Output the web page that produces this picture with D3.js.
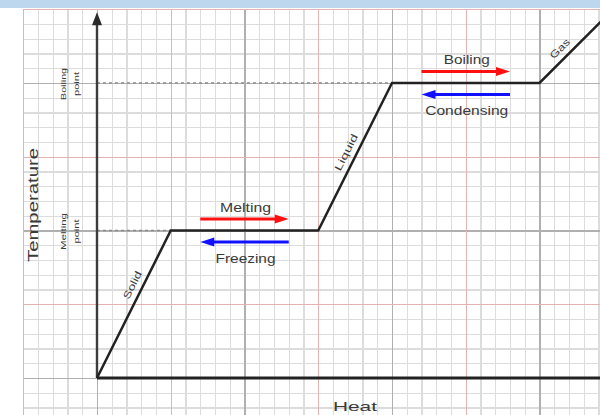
<!DOCTYPE html>
<html>
<head>
<meta charset="utf-8">
<script src="https://cdn.jsdelivr.net/npm/d3@7"></script>
<style>
  html, body { margin: 0; padding: 0; background: #fff; }
  svg { display: block; }
  text { font-family: "Liberation Sans", Arial, sans-serif; fill: #3a3a3a; }
</style>
</head>
<body>
<svg id="chart" width="600" height="415"></svg>
<script>
// Heating curve: heat added (x, grid cells) vs temperature (y, grid cells)
const heat = [0, 5, 15, 20, 30, 35];
const temperature = [0, 10, 10, 20, 20, 25];
const phaseNames = ["Solid", "Liquid", "Gas"];
const forwardNames = ["Melting", "Boiling"];
const reverseNames = ["Freezing", "Condensing"];
const pointNames = [["Melting", "point"], ["Boiling", "point"]];
const plateauStarts = [1, 3]; // indices of the first point of each flat segment
const xTitle = "Heat";
const yTitle = "Temperature";
const gridXValues = d3.range(-5, 36);
const gridYValues = d3.range(-3, 26);

const W = 600, H = 415;
const cell = 14.75;
const x0 = 97, y0 = 378;

const x = d3.scaleLinear().domain([0, 30]).range([x0, x0 + 30 * cell]);
const y = d3.scaleLinear().domain([0, 25]).range([y0, y0 - 25 * cell]);

const svg = d3.select("#chart");
const gridLeft = x(-5), gridTop = y(25);

// ---- graph-paper grid ----
function kind(v) {
  if (v % 10 === 0) return "mid";
  if (((v % 10) + 10) % 10 === 5) return "major";
  return "minor";
}
const gridStyles = {
  minor: { stroke: "#dcdcdc", width: 1.2 },
  mid:   { stroke: "#b0b0b0", width: 1.3 },
  major: { stroke: "#e3b3b3", width: 1.4 }
};
["minor", "mid", "major"].forEach(k => {
  const vx = gridXValues.filter(v => kind(v) === k);
  const vy = gridYValues.filter(v => kind(v) === k);
  const gxv = svg.append("g")
    .attr("transform", `translate(0,${H})`)
    .call(d3.axisBottom(x).tickValues(vx).tickSize(-(H - gridTop)).tickFormat(""));
  const gyv = svg.append("g")
    .attr("transform", `translate(${gridLeft},0)`)
    .call(d3.axisLeft(y).tickValues(vy).tickSize(-(W - gridLeft)).tickFormat(""));
  [gxv, gyv].forEach(g => {
    g.select(".domain").remove();
    g.selectAll("line")
      .attr("stroke", gridStyles[k].stroke)
      .attr("stroke-width", gridStyles[k].width)
      .attr("shape-rendering", "crispEdges");
  });
});

// top band
svg.append("rect").attr("x", 0).attr("y", 0).attr("width", W).attr("height", 8)
  .attr("fill", "#bdd7ee");

// ---- dashed guides from the y axis to each plateau ----
svg.append("g").selectAll("line").data(plateauStarts).join("line")
  .attr("x1", x(0)).attr("x2", i => x(heat[i]))
  .attr("y1", i => y(temperature[i])).attr("y2", i => y(temperature[i]))
  .attr("stroke", "#8a8a8a").attr("stroke-width", 1.6)
  .attr("stroke-dasharray", "3,3");

// ---- axes ----
const arrowTip = y(25) + 3;
svg.append("line")
  .attr("x1", x(0)).attr("x2", x(0))
  .attr("y1", y(0)).attr("y2", arrowTip + 8)
  .attr("stroke", "#3c3c3c").attr("stroke-width", 2.4);
svg.append("path")
  .attr("d", `M${x(0)},${arrowTip} L${x(0) - 5},${arrowTip + 13} L${x(0) + 5},${arrowTip + 13} Z`)
  .attr("fill", "#2a2a2a");
svg.append("line")
  .attr("x1", x(0)).attr("x2", x(35))
  .attr("y1", y(0)).attr("y2", y(0))
  .attr("stroke", "#222").attr("stroke-width", 3);

// ---- heating curve ----
const pts = heat.map((h, i) => [h, temperature[i]]);
svg.append("path")
  .datum(pts)
  .attr("d", d3.line().x(d => x(d[0])).y(d => y(d[1])))
  .attr("fill", "none")
  .attr("stroke", "#222")
  .attr("stroke-width", 2.5)
  .attr("stroke-linejoin", "miter");

// ---- phase labels along the sloped segments ----
const phaseSegs = [[0, 1, 0.6, 30], [2, 3, 0.5, 40], [4, 5, 0.37, 24]];
phaseSegs.forEach(([a, b, t, len], k) => {
  const xa = x(heat[a]), ya = y(temperature[a]);
  const xb = x(heat[b]), yb = y(temperature[b]);
  const dx = xb - xa, dy = yb - ya;
  const L = Math.hypot(dx, dy);
  const ang = Math.atan2(dy, dx) * 180 / Math.PI;
  // normal pointing up-left of the segment
  const nx = dy / L, ny = -dx / L;
  const off = 10;
  const cx = xa + dx * t + nx * off, cy = ya + dy * t + ny * off;
  svg.append("text")
    .attr("transform", `translate(${cx},${cy}) rotate(${ang})`)
    .attr("text-anchor", "middle")
    .attr("dominant-baseline", "central")
    .attr("font-size", 10)
    .attr("textLength", len)
    .attr("lengthAdjust", "spacingAndGlyphs")
    .text(phaseNames[k]);
});

// ---- phase-change arrows ----
function arrow(xs, xe, yy, color) {
  const dir = Math.sign(xe - xs);
  const head = 14, hw = 4.5;
  svg.append("line")
    .attr("x1", xs).attr("x2", xe - dir * head + dir * 1)
    .attr("y1", yy).attr("y2", yy)
    .attr("stroke", color).attr("stroke-width", 3);
  svg.append("path")
    .attr("d", `M${xe},${yy} L${xe - dir * head},${yy - hw} L${xe - dir * head},${yy + hw} Z`)
    .attr("fill", color);
}
const fwdLens = [51, 46], revLens = [60, 83];
plateauStarts.forEach((i, k) => {
  const h1 = heat[i] + 2, h2 = heat[i + 1] - 2;
  const lvl = y(temperature[i]);
  const cx = (x(h1) + x(h2)) / 2 + 1;
  arrow(x(h1), x(h2), lvl - 11.5, "#ff1010");
  arrow(x(h2), x(h1), lvl + 11.5, "#1010ff");
  svg.append("text")
    .attr("x", cx).attr("y", lvl - 19)
    .attr("text-anchor", "middle")
    .attr("font-size", 12)
    .attr("textLength", fwdLens[k]).attr("lengthAdjust", "spacingAndGlyphs")
    .text(forwardNames[k]);
  svg.append("text")
    .attr("x", cx).attr("y", lvl + 32)
    .attr("text-anchor", "middle")
    .attr("font-size", 12)
    .attr("textLength", revLens[k]).attr("lengthAdjust", "spacingAndGlyphs")
    .text(reverseNames[k]);
});

// ---- melting / boiling point labels beside the y axis ----
const pointLens = [[37, 24], [32, 24]];
plateauStarts.forEach((i, k) => {
  const cy = y(temperature[i]) + 1;
  pointNames[k].forEach((word, j) => {
    svg.append("text")
      .attr("transform", `translate(${66 + j * 13},${cy}) rotate(-90)`)
      .attr("text-anchor", "middle")
      .attr("font-size", 7.5)
      .attr("textLength", pointLens[k][j]).attr("lengthAdjust", "spacingAndGlyphs")
      .text(word);
  });
});

// ---- axis titles ----
svg.append("text")
  .attr("transform", `translate(38,205) rotate(-90)`)
  .attr("text-anchor", "middle")
  .attr("font-size", 14)
  .attr("textLength", 114).attr("lengthAdjust", "spacingAndGlyphs")
  .text(yTitle);
svg.append("text")
  .attr("x", 355).attr("y", 411)
  .attr("text-anchor", "middle")
  .attr("font-size", 13)
  .attr("textLength", 44).attr("lengthAdjust", "spacingAndGlyphs")
  .text(xTitle);
</script>
</body>
</html>
